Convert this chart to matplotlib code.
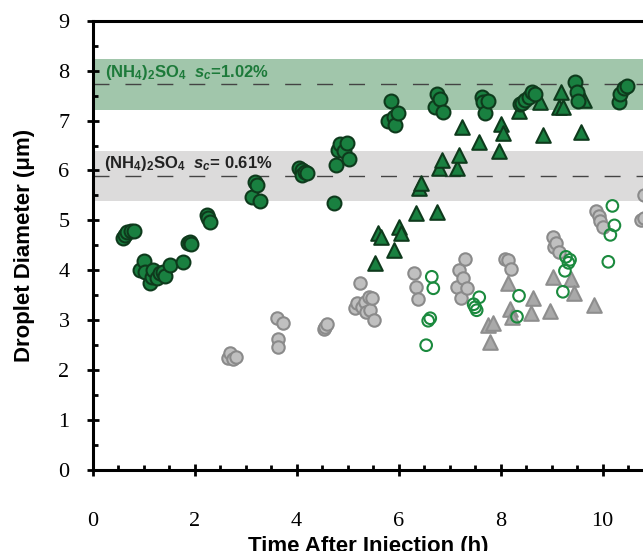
import matplotlib
matplotlib.use("Agg")
import matplotlib.pyplot as plt
from matplotlib.ticker import MultipleLocator

plt.rcParams["mathtext.fontset"] = "custom"
plt.rcParams["mathtext.rm"] = "Liberation Sans:bold"
plt.rcParams["mathtext.bf"] = "Liberation Sans:bold"
plt.rcParams["mathtext.it"] = "Liberation Sans:bold:italic"

# ---------------- data ----------------
gc_x = [0.60, 0.63, 0.68, 0.75, 0.82,
        0.93, 1.00, 1.03, 1.13, 1.16, 1.19, 1.26, 1.32, 1.39, 1.42, 1.51, 1.77, 1.88, 1.91, 1.94,
        2.24, 2.27, 2.30,
        3.12, 3.19, 3.22, 3.28,
        4.04, 4.10, 4.10, 4.17, 4.20,
        4.74, 4.78, 4.82, 4.85, 4.92, 4.98, 5.02,
        5.80, 5.85, 5.90, 5.93, 5.98,
        6.72, 6.75, 6.81, 6.87,
        7.63, 7.66, 7.70, 7.76,
        8.38, 8.42, 8.48, 8.55, 8.61, 8.68,
        9.46, 9.49, 9.51,
        10.31, 10.34, 10.41, 10.47]
gc_y = [4.64, 4.70, 4.77, 4.78, 4.78,
        4.00, 4.19, 3.97, 3.74, 3.87, 4.00, 3.84, 3.94, 3.97, 3.89, 4.11, 4.16, 4.54, 4.57, 4.53,
        5.11, 5.04, 4.96,
        5.47, 5.77, 5.71, 5.39,
        6.04, 6.01, 5.91, 5.97, 5.95,
        5.35, 6.10, 6.41, 6.54, 6.38, 6.56, 6.22,
        7.00, 7.40, 7.08, 6.92, 7.16,
        7.28, 7.53, 7.44, 7.18,
        7.48, 7.38, 7.16, 7.40,
        7.34, 7.36, 7.41, 7.48, 7.58, 7.54,
        7.78, 7.58, 7.40,
        7.38, 7.54, 7.66, 7.69]

gt_x = [5.54, 5.60, 5.65, 5.90, 6.00, 6.04,
        6.35, 6.39, 6.43, 6.75,
        6.80, 6.85, 7.15, 7.19, 7.25, 7.58,
        7.96, 8.00, 8.04,
        8.35, 8.77, 8.83, 9.15, 9.18, 9.23, 9.58, 9.64]
gt_y = [4.14, 4.74, 4.66, 4.41, 4.87, 4.74,
        5.14, 5.64, 5.75, 5.17,
        6.04, 6.21, 6.04, 6.31, 6.88, 6.58,
        6.38, 6.94, 6.76,
        7.20, 7.38, 6.71, 7.27, 7.58, 7.28, 6.78, 7.42]

yc_x = [2.66, 2.70, 2.75, 2.81,
        3.61, 3.64, 3.64, 3.74,
        4.53, 4.56, 4.60,
        5.15, 5.18, 5.25, 5.28, 5.34, 5.37, 5.41, 5.44, 5.47, 5.51,
        6.30, 6.34, 6.38,
        7.14, 7.19, 7.22, 7.27, 7.30, 7.35,
        8.09, 8.15, 8.21,
        9.02, 9.04, 9.09, 9.15,
        9.87, 9.92, 9.95, 10.00,
        10.76, 10.80, 10.80]
yc_y = [2.24, 2.34, 2.22, 2.27,
        3.04, 2.62, 2.47, 2.95,
        2.82, 2.86, 2.92,
        3.24, 3.34, 3.74, 3.27, 3.37, 3.17, 3.47, 3.20, 3.44, 3.00,
        3.95, 3.66, 3.42,
        3.66, 4.01, 3.44, 3.85, 4.23, 3.64,
        4.23, 4.21, 4.03,
        4.67, 4.47, 4.55, 4.37,
        5.19, 5.09, 4.99, 4.87,
        5.01, 5.04, 5.51]

yt_x = [7.76, 7.79, 7.85, 8.15, 8.19, 8.22, 8.59, 8.64, 8.97, 9.02, 9.38, 9.43, 9.83]
yt_y = [2.90, 2.57, 2.94, 3.75, 3.22, 3.07, 3.14, 3.44, 3.18, 3.87, 3.83, 3.55, 3.30]

oc_x = [6.54, 6.58, 6.62, 6.65, 6.68,
        7.47, 7.50, 7.53, 7.58,
        8.32, 8.36,
        9.22, 9.26, 9.28, 9.33, 9.36,
        10.11, 10.15, 10.19, 10.23]
oc_y = [2.50, 2.99, 3.04, 3.87, 3.64,
        3.32, 3.26, 3.20, 3.46,
        3.07, 3.49,
        3.57, 3.99, 4.27, 4.15, 4.21,
        4.17, 4.71, 5.29, 4.90]

# bands: (low, mid, high)
band_hi = (7.22, 7.74, 8.23)
band_lo = (5.39, 5.89, 6.39)

x_ticks = [0, 2, 4, 6, 8, 10]
y_ticks = [0, 1, 2, 3, 4, 5, 6, 7, 8, 9]

# ---------------- plot ----------------
fig = plt.figure(figsize=(6.43, 5.51), dpi=100)
W, H = 643, 551
x0, y0 = 92.5, 470.0
ax = fig.add_axes([x0 / W, 1 - y0 / H, 1 - x0 / W, (y0 - 20.7) / H])
ax.set_xlim(0, 10.79)
ax.set_ylim(0, 9)

ax.axhspan(band_hi[0], band_hi[2], color="#a1c6ab", lw=0, zorder=0)
ax.axhspan(band_lo[0], band_lo[2], color="#dcdbdb", lw=0, zorder=0)
for b in (band_hi, band_lo):
    ax.axhline(b[1], color="#444444", lw=1.0, dashes=(11.5, 11.5), zorder=1)

ax.text(0.245, 7.87, r"(NH$_4$)$_2$SO$_4$  $s_c$=1.02%", color="#1d7a3a",
        fontsize=12, fontweight="bold", family="Liberation Sans", zorder=2)
ax.text(0.22, 6.05, r"(NH$_4$)$_2$SO$_4$  $s_c$= 0.61%", color="#222222",
        fontsize=12, fontweight="bold", family="Liberation Sans", zorder=2)

ax.scatter(yc_x, yc_y, s=80, marker="o", facecolor="#c0c0c0", edgecolor="#8a8a8a", lw=1.5, zorder=3)
ax.scatter(yt_x, yt_y, s=110, marker="^", facecolor="#a9a9a9", edgecolor="#8e8e8e", lw=1.5, zorder=3)
ax.scatter(oc_x, oc_y, s=70, marker="o", facecolor="none", edgecolor="#1b8a3e", lw=1.5, zorder=4)
ax.scatter(gt_x, gt_y, s=110, marker="^", facecolor="#198040", edgecolor="#0e3a1c", lw=1.5, zorder=5)
ax.scatter(gc_x, gc_y, s=100, marker="o", facecolor="#198040", edgecolor="#0e3a1c", lw=1.5, zorder=6)

for s in ("left", "bottom", "top"):
    ax.spines[s].set_linewidth(2.2)
    ax.spines[s].set_color("black")
ax.spines["right"].set_visible(False)

ax.set_xticks(x_ticks)
ax.set_yticks(y_ticks)
ax.xaxis.set_minor_locator(MultipleLocator(0.5))
ax.yaxis.set_minor_locator(MultipleLocator(0.5))
ax.tick_params(which="major", direction="inout", length=9, width=2, top=False, right=False)
ax.tick_params(which="minor", direction="in", length=3.5, width=2, top=False, right=False)
ax.tick_params(axis="x", which="major", pad=26)
ax.tick_params(axis="y", which="major", pad=12)
for lab in ax.get_xticklabels() + ax.get_yticklabels():
    lab.set_fontfamily("Liberation Serif")
    lab.set_fontsize(16)

ax.set_xlabel("Time After Injection (h)", fontsize=16, fontweight="bold",
              family="Liberation Sans", labelpad=3)
ax.set_ylabel("Droplet Diameter (\u03bcm)", fontsize=16, fontweight="bold",
              family="Liberation Sans", labelpad=17)

fig.savefig("out.png", dpi=100)
